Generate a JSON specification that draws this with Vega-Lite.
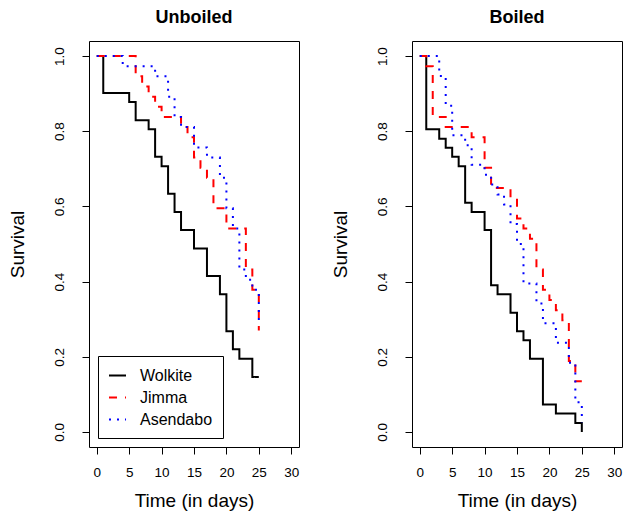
{
  "$schema": "https://vega.github.io/schema/vega-lite/v6.json",
  "padding": {"left": 7, "top": 8, "right": 0, "bottom": 0},
  "background": "white",
  "datasets": {
    "km": [
      {"treatment": "Unboiled", "site": "Wolkite", "day": 0, "survival": 1},
      {"treatment": "Unboiled", "site": "Wolkite", "day": 1, "survival": 0.902},
      {"treatment": "Unboiled", "site": "Wolkite", "day": 5, "survival": 0.878},
      {"treatment": "Unboiled", "site": "Wolkite", "day": 6, "survival": 0.829},
      {"treatment": "Unboiled", "site": "Wolkite", "day": 8, "survival": 0.805},
      {"treatment": "Unboiled", "site": "Wolkite", "day": 9, "survival": 0.732},
      {"treatment": "Unboiled", "site": "Wolkite", "day": 10, "survival": 0.707},
      {"treatment": "Unboiled", "site": "Wolkite", "day": 11, "survival": 0.634},
      {"treatment": "Unboiled", "site": "Wolkite", "day": 12, "survival": 0.585},
      {"treatment": "Unboiled", "site": "Wolkite", "day": 13, "survival": 0.537},
      {"treatment": "Unboiled", "site": "Wolkite", "day": 15, "survival": 0.488},
      {"treatment": "Unboiled", "site": "Wolkite", "day": 17, "survival": 0.415},
      {"treatment": "Unboiled", "site": "Wolkite", "day": 19, "survival": 0.366},
      {"treatment": "Unboiled", "site": "Wolkite", "day": 20, "survival": 0.268},
      {"treatment": "Unboiled", "site": "Wolkite", "day": 21, "survival": 0.220},
      {"treatment": "Unboiled", "site": "Wolkite", "day": 22, "survival": 0.195},
      {"treatment": "Unboiled", "site": "Wolkite", "day": 24, "survival": 0.146},
      {"treatment": "Unboiled", "site": "Wolkite", "day": 25, "survival": 0.146},

      {"treatment": "Unboiled", "site": "Jimma", "day": 0, "survival": 1},
      {"treatment": "Unboiled", "site": "Jimma", "day": 6, "survival": 0.946},
      {"treatment": "Unboiled", "site": "Jimma", "day": 7, "survival": 0.919},
      {"treatment": "Unboiled", "site": "Jimma", "day": 8, "survival": 0.892},
      {"treatment": "Unboiled", "site": "Jimma", "day": 9, "survival": 0.865},
      {"treatment": "Unboiled", "site": "Jimma", "day": 10, "survival": 0.838},
      {"treatment": "Unboiled", "site": "Jimma", "day": 13, "survival": 0.811},
      {"treatment": "Unboiled", "site": "Jimma", "day": 14, "survival": 0.784},
      {"treatment": "Unboiled", "site": "Jimma", "day": 15, "survival": 0.730},
      {"treatment": "Unboiled", "site": "Jimma", "day": 16, "survival": 0.703},
      {"treatment": "Unboiled", "site": "Jimma", "day": 17, "survival": 0.676},
      {"treatment": "Unboiled", "site": "Jimma", "day": 18, "survival": 0.595},
      {"treatment": "Unboiled", "site": "Jimma", "day": 20, "survival": 0.541},
      {"treatment": "Unboiled", "site": "Jimma", "day": 23, "survival": 0.432},
      {"treatment": "Unboiled", "site": "Jimma", "day": 24, "survival": 0.378},
      {"treatment": "Unboiled", "site": "Jimma", "day": 25, "survival": 0.270},

      {"treatment": "Unboiled", "site": "Asendabo", "day": 0, "survival": 1},
      {"treatment": "Unboiled", "site": "Asendabo", "day": 4, "survival": 0.973},
      {"treatment": "Unboiled", "site": "Asendabo", "day": 9, "survival": 0.946},
      {"treatment": "Unboiled", "site": "Asendabo", "day": 11, "survival": 0.892},
      {"treatment": "Unboiled", "site": "Asendabo", "day": 12, "survival": 0.838},
      {"treatment": "Unboiled", "site": "Asendabo", "day": 13, "survival": 0.811},
      {"treatment": "Unboiled", "site": "Asendabo", "day": 15, "survival": 0.757},
      {"treatment": "Unboiled", "site": "Asendabo", "day": 17, "survival": 0.730},
      {"treatment": "Unboiled", "site": "Asendabo", "day": 19, "survival": 0.676},
      {"treatment": "Unboiled", "site": "Asendabo", "day": 20, "survival": 0.595},
      {"treatment": "Unboiled", "site": "Asendabo", "day": 21, "survival": 0.541},
      {"treatment": "Unboiled", "site": "Asendabo", "day": 22, "survival": 0.432},
      {"treatment": "Unboiled", "site": "Asendabo", "day": 23, "survival": 0.405},
      {"treatment": "Unboiled", "site": "Asendabo", "day": 24, "survival": 0.378},
      {"treatment": "Unboiled", "site": "Asendabo", "day": 25, "survival": 0.297},

      {"treatment": "Boiled", "site": "Wolkite", "day": 0, "survival": 1},
      {"treatment": "Boiled", "site": "Wolkite", "day": 1, "survival": 0.805},
      {"treatment": "Boiled", "site": "Wolkite", "day": 3, "survival": 0.780},
      {"treatment": "Boiled", "site": "Wolkite", "day": 4, "survival": 0.756},
      {"treatment": "Boiled", "site": "Wolkite", "day": 5, "survival": 0.732},
      {"treatment": "Boiled", "site": "Wolkite", "day": 6, "survival": 0.707},
      {"treatment": "Boiled", "site": "Wolkite", "day": 7, "survival": 0.610},
      {"treatment": "Boiled", "site": "Wolkite", "day": 8, "survival": 0.585},
      {"treatment": "Boiled", "site": "Wolkite", "day": 10, "survival": 0.537},
      {"treatment": "Boiled", "site": "Wolkite", "day": 11, "survival": 0.390},
      {"treatment": "Boiled", "site": "Wolkite", "day": 12, "survival": 0.366},
      {"treatment": "Boiled", "site": "Wolkite", "day": 14, "survival": 0.317},
      {"treatment": "Boiled", "site": "Wolkite", "day": 15, "survival": 0.268},
      {"treatment": "Boiled", "site": "Wolkite", "day": 16, "survival": 0.244},
      {"treatment": "Boiled", "site": "Wolkite", "day": 17, "survival": 0.195},
      {"treatment": "Boiled", "site": "Wolkite", "day": 19, "survival": 0.073},
      {"treatment": "Boiled", "site": "Wolkite", "day": 21, "survival": 0.049},
      {"treatment": "Boiled", "site": "Wolkite", "day": 24, "survival": 0.024},
      {"treatment": "Boiled", "site": "Wolkite", "day": 25, "survival": 0},

      {"treatment": "Boiled", "site": "Jimma", "day": 0, "survival": 1},
      {"treatment": "Boiled", "site": "Jimma", "day": 1, "survival": 0.973},
      {"treatment": "Boiled", "site": "Jimma", "day": 2, "survival": 0.838},
      {"treatment": "Boiled", "site": "Jimma", "day": 4, "survival": 0.811},
      {"treatment": "Boiled", "site": "Jimma", "day": 8, "survival": 0.784},
      {"treatment": "Boiled", "site": "Jimma", "day": 10, "survival": 0.703},
      {"treatment": "Boiled", "site": "Jimma", "day": 11, "survival": 0.649},
      {"treatment": "Boiled", "site": "Jimma", "day": 14, "survival": 0.622},
      {"treatment": "Boiled", "site": "Jimma", "day": 15, "survival": 0.568},
      {"treatment": "Boiled", "site": "Jimma", "day": 16, "survival": 0.541},
      {"treatment": "Boiled", "site": "Jimma", "day": 17, "survival": 0.514},
      {"treatment": "Boiled", "site": "Jimma", "day": 18, "survival": 0.432},
      {"treatment": "Boiled", "site": "Jimma", "day": 19, "survival": 0.378},
      {"treatment": "Boiled", "site": "Jimma", "day": 20, "survival": 0.351},
      {"treatment": "Boiled", "site": "Jimma", "day": 21, "survival": 0.324},
      {"treatment": "Boiled", "site": "Jimma", "day": 22, "survival": 0.297},
      {"treatment": "Boiled", "site": "Jimma", "day": 23, "survival": 0.189},
      {"treatment": "Boiled", "site": "Jimma", "day": 24, "survival": 0.135},
      {"treatment": "Boiled", "site": "Jimma", "day": 25, "survival": 0.135},

      {"treatment": "Boiled", "site": "Asendabo", "day": 0, "survival": 1},
      {"treatment": "Boiled", "site": "Asendabo", "day": 3, "survival": 0.947},
      {"treatment": "Boiled", "site": "Asendabo", "day": 4, "survival": 0.868},
      {"treatment": "Boiled", "site": "Asendabo", "day": 5, "survival": 0.789},
      {"treatment": "Boiled", "site": "Asendabo", "day": 7, "survival": 0.763},
      {"treatment": "Boiled", "site": "Asendabo", "day": 8, "survival": 0.711},
      {"treatment": "Boiled", "site": "Asendabo", "day": 10, "survival": 0.684},
      {"treatment": "Boiled", "site": "Asendabo", "day": 11, "survival": 0.658},
      {"treatment": "Boiled", "site": "Asendabo", "day": 12, "survival": 0.632},
      {"treatment": "Boiled", "site": "Asendabo", "day": 13, "survival": 0.605},
      {"treatment": "Boiled", "site": "Asendabo", "day": 14, "survival": 0.553},
      {"treatment": "Boiled", "site": "Asendabo", "day": 15, "survival": 0.500},
      {"treatment": "Boiled", "site": "Asendabo", "day": 16, "survival": 0.395},
      {"treatment": "Boiled", "site": "Asendabo", "day": 18, "survival": 0.342},
      {"treatment": "Boiled", "site": "Asendabo", "day": 19, "survival": 0.289},
      {"treatment": "Boiled", "site": "Asendabo", "day": 21, "survival": 0.237},
      {"treatment": "Boiled", "site": "Asendabo", "day": 23, "survival": 0.184},
      {"treatment": "Boiled", "site": "Asendabo", "day": 24, "survival": 0.079},
      {"treatment": "Boiled", "site": "Asendabo", "day": 25, "survival": 0.026}
    ]
  },
  "config": {
    "font": "Liberation Sans",
    "view": {"stroke": "black", "strokeWidth": 1},
    "axis": {
      "grid": false,
      "domain": false,
      "ticks": true,
      "tickColor": "black",
      "tickSize": 7,
      "labelColor": "black",
      "titleColor": "black",
      "labelFont": "Liberation Sans",
      "titleFont": "Liberation Sans",
      "labelFontSize": 13.5,
      "titleFontSize": 19,
      "titleFontWeight": "normal",
      "labelFlush": false,
      "labelOverlap": false
    },
    "axisX": {"labelPadding": 11, "titlePadding": 13},
    "axisY": {"labelPadding": 16, "titlePadding": 25},
    "title": {"font": "Liberation Sans", "fontSize": 18, "fontWeight": "bold", "color": "black", "offset": 14},
    "legend": {
      "orient": "none",
      "legendX": 9,
      "legendY": 315,
      "strokeColor": "black",
      "fillColor": "white",
      "padding": 10,
      "symbolType": "stroke",
      "symbolSize": 289,
      "symbolStrokeWidth": 2,
      "labelFont": "Liberation Sans",
      "labelFontSize": 16,
      "labelColor": "black",
      "labelOffset": 13,
      "rowPadding": 4,
      "cornerRadius": 0
    }
  },
  "spacing": 30,
  "resolve": {"scale": {"color": "independent", "strokeDash": "independent"}},
  "hconcat": [
    {
      "title": "Unboiled",
      "width": 210,
      "height": 406,
      "data": {"name": "km"},
      "transform": [{"filter": "datum.treatment === 'Unboiled'"}],
      "mark": {"type": "line", "interpolate": "step-after", "strokeWidth": 2, "strokeCap": "butt"},
      "encoding": {
        "x": {
          "field": "day", "type": "quantitative",
          "scale": {"domain": [-1.2, 31.2], "nice": false, "zero": false},
          "axis": {"values": [0, 5, 10, 15, 20, 25, 30], "title": "Time (in days)"}
        },
        "y": {
          "field": "survival", "type": "quantitative",
          "scale": {"domain": [-0.04, 1.04], "nice": false, "zero": false},
          "axis": {"values": [0, 0.2, 0.4, 0.6, 0.8, 1], "format": ".1f", "labelAngle": -90, "labelAlign": "center", "labelBaseline": "bottom", "title": "Survival"}
        },
        "color": {
          "field": "site", "type": "nominal",
          "scale": {"domain": ["Wolkite", "Jimma", "Asendabo"], "range": ["#000000", "#ff0000", "#0000ff"]},
          "legend": {"title": null}
        },
        "strokeDash": {
          "field": "site", "type": "nominal",
          "scale": {"domain": ["Wolkite", "Jimma", "Asendabo"], "range": [[1, 0], [8, 8], [2, 6]]},
          "legend": {"title": null}
        }
      }
    },
    {
      "title": "Boiled",
      "width": 210,
      "height": 406,
      "data": {"name": "km"},
      "transform": [{"filter": "datum.treatment === 'Boiled'"}],
      "mark": {"type": "line", "interpolate": "step-after", "strokeWidth": 2, "strokeCap": "butt"},
      "encoding": {
        "x": {
          "field": "day", "type": "quantitative",
          "scale": {"domain": [-1.2, 31.2], "nice": false, "zero": false},
          "axis": {"values": [0, 5, 10, 15, 20, 25, 30], "title": "Time (in days)"}
        },
        "y": {
          "field": "survival", "type": "quantitative",
          "scale": {"domain": [-0.04, 1.04], "nice": false, "zero": false},
          "axis": {"values": [0, 0.2, 0.4, 0.6, 0.8, 1], "format": ".1f", "labelAngle": -90, "labelAlign": "center", "labelBaseline": "bottom", "title": "Survival"}
        },
        "color": {
          "field": "site", "type": "nominal",
          "scale": {"domain": ["Wolkite", "Jimma", "Asendabo"], "range": ["#000000", "#ff0000", "#0000ff"]},
          "legend": null
        },
        "strokeDash": {
          "field": "site", "type": "nominal",
          "scale": {"domain": ["Wolkite", "Jimma", "Asendabo"], "range": [[1, 0], [8, 8], [2, 6]]},
          "legend": null
        }
      }
    }
  ]
}
